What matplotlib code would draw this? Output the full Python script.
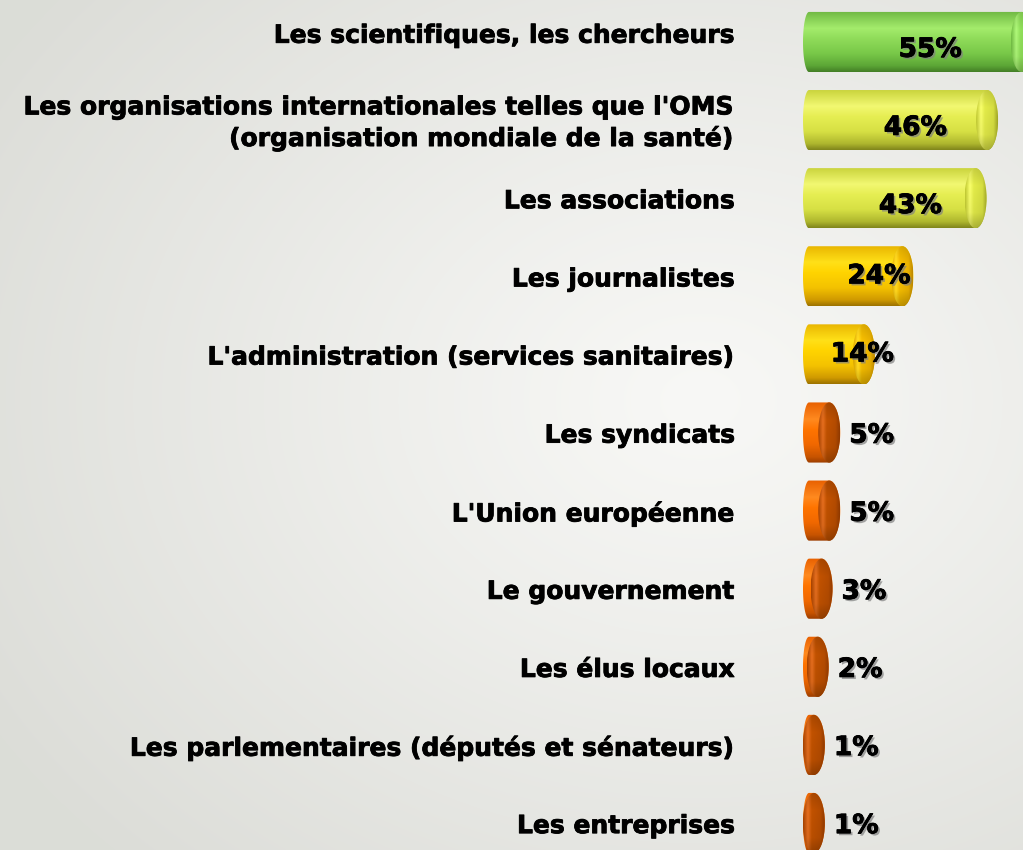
import numpy as np
import matplotlib.pyplot as plt
import matplotlib.patheffects as pe
from matplotlib.patches import Ellipse, PathPatch
from matplotlib.path import Path
from matplotlib.colors import to_rgb

# =========================
# Data
# =========================

labels = [
    "Les scientifiques, les chercheurs",
    "Les organisations internationales telles que l'OMS\n(organisation mondiale de la santé)",
    "Les associations",
    "Les journalistes",
    "L'administration (services sanitaires)",
    "Les syndicats",
    "L'Union européenne",
    "Le gouvernement",
    "Les élus locaux",
    "Les parlementaires (députés et sénateurs)",
    "Les entreprises",
]

values = [55, 46, 43, 24, 14, 5, 5, 3, 2, 1, 1]

# =========================
# Layout / style
# =========================

W, H, DPI = 1023, 850, 100
PX = 3.85            # pixels per percentage point
X0 = 803             # bar base (px)
ROW0 = 42            # first row centre (px)
ROW_STEP = 78.1      # row spacing (px)
BAR_H = 0.77         # bar height, row units
CAP_L = 6 / PX       # left rounding
CAP_R = 11 / PX      # right end face half width
PAD = 7 / PX

# colour schemes: body (top -> bottom) and face (left -> right)
SCHEMES = {
    "green": dict(
        body=["#6fb843", "#a4ec6c", "#90dc5a", "#78c848", "#5ca636", "#437f26"],
        face=["#6cb440", "#a8ee74", "#8ad656", "#80cc4e", "#5c9e38"],
    ),
    "lime": dict(
        body=["#c8d23a", "#f2f872", "#e6ee52", "#d6e044", "#aeb62e", "#80861c"],
        face=["#b8c030", "#eef468", "#d8e046", "#ccd43e", "#9aa026"],
    ),
    "gold": dict(
        body=["#e8b400", "#ffe018", "#ffd400", "#f4c200", "#d09a00", "#9c7200"],
        face=["#d09c00", "#ffd820", "#eeb800", "#e0aa00", "#b88400"],
    ),
    "orange": dict(
        body=["#e86000", "#ff8a20", "#ff7400", "#f06800", "#c85400", "#9c3e00"],
        face=["#a04000", "#dc6a1e", "#b84e00", "#ac4800", "#8c3800"],
    ),
}
BODY_T = [0.0, 0.28, 0.45, 0.7, 0.9, 1.0]
FACE_T = [0.0, 0.22, 0.4, 0.8, 1.0]


def scheme_for(v):
    if v >= 50:
        return SCHEMES["green"]
    if v >= 30:
        return SCHEMES["lime"]
    if v >= 10:
        return SCHEMES["gold"]
    return SCHEMES["orange"]


def ramp(colors, stops, n=120):
    t = np.linspace(0, 1, n)
    rgb = np.array([to_rgb(c) for c in colors])
    return np.column_stack([np.interp(t, stops, rgb[:, k]) for k in range(3)])


def body_path(L, yc):
    h = BAR_H / 2
    th = np.linspace(np.pi / 2, 3 * np.pi / 2, 40)
    left = np.column_stack([CAP_L + CAP_L * np.cos(th), yc - h * np.sin(th)])
    th = np.linspace(-np.pi / 2, np.pi / 2, 40)
    right = np.column_stack([L + CAP_R * np.cos(th), yc - h * np.sin(th)])
    verts = np.vstack([left, right, left[:1]])
    return Path(verts, closed=True)


# =========================
# Plot
# =========================

fig = plt.figure(figsize=(W / DPI, H / DPI), dpi=DPI)
ax = fig.add_axes([0, 0, 1, 1])
ax.axis("off")

x_left, x_right = -X0 / PX, (W - X0) / PX
y_top = -ROW0 / ROW_STEP
y_bot = (H - ROW0) / ROW_STEP

# radial background
yy, xx = np.mgrid[0:H, 0:W]
r = np.sqrt(((xx - 700) / 820.0) ** 2 + ((yy - 400) / 640.0) ** 2)
r = np.clip(r, 0, 1) ** 1.1
light = np.array(to_rgb("#f8f8f6"))
dark = np.array(to_rgb("#dcddd8"))
bg = light[None, None, :] + (dark - light)[None, None, :] * r[:, :, None]
ax.imshow(bg, extent=(x_left, x_right, y_bot, y_top), origin="upper",
          aspect="auto", zorder=0)

bold_fx = [pe.withStroke(linewidth=0.6, foreground="black")]

for i, (lab, v) in enumerate(zip(labels, values)):
    sc = scheme_for(v)
    h = BAR_H / 2
    L = PAD + v

    # cylinder body
    body = PathPatch(body_path(L, i), facecolor="none", edgecolor="none", zorder=2)
    ax.add_patch(body)
    bimg = ramp(sc["body"], BODY_T)[:, None, :].repeat(2, axis=1)
    im = ax.imshow(bimg, extent=(0, L + CAP_R, i + h, i - h), origin="upper",
                   aspect="auto", interpolation="bilinear", zorder=2)
    im.set_clip_path(body)

    # end face
    face = Ellipse((L, i), 2 * CAP_R, BAR_H, facecolor="none", edgecolor="none", zorder=3)
    ax.add_patch(face)
    hprof = ramp(sc["face"], FACE_T, n=60)
    vfac = np.interp(np.linspace(0, 1, 80), [0, 0.3, 0.75, 1], [0.92, 1.05, 1.0, 0.8])
    fimg = np.clip(hprof[None, :, :] * vfac[:, None, None], 0, 1)
    im = ax.imshow(fimg, extent=(L - CAP_R, L + CAP_R, i + h, i - h), origin="upper",
                   aspect="auto", interpolation="bilinear", zorder=3)
    im.set_clip_path(face)

    # category label
    ax.text((735 - X0) / PX, i + (-0.08 if i == 0 else 0.04), lab, ha="right", va="center",
            fontsize=18, fontweight="bold", family="DejaVu Sans", color="black",
            linespacing=1.3, zorder=4, path_effects=bold_fx)

    # value label
    if v >= 10:
        tx, ha = 9.4 + 0.43 * v, "center"
        dy = 0.1 if v >= 30 else 0.0
    else:
        tx, ha = L + CAP_R + 9 / PX, "left"
        dy = 0.04
    ax.text(tx, i + dy, f"{v}%", ha=ha, va="center", fontsize=19,
            fontweight="bold", family="DejaVu Sans", color="black", zorder=5,
            path_effects=[pe.withSimplePatchShadow(offset=(1.5, -1.5),
                                                   shadow_rgbFace="#808080", alpha=0.7),
                          pe.withStroke(linewidth=0.6, foreground="black")])

ax.set_xlim(x_left, x_right)
ax.set_ylim(y_bot, y_top)

plt.savefig("out.png", dpi=DPI)
plt.close(fig)
